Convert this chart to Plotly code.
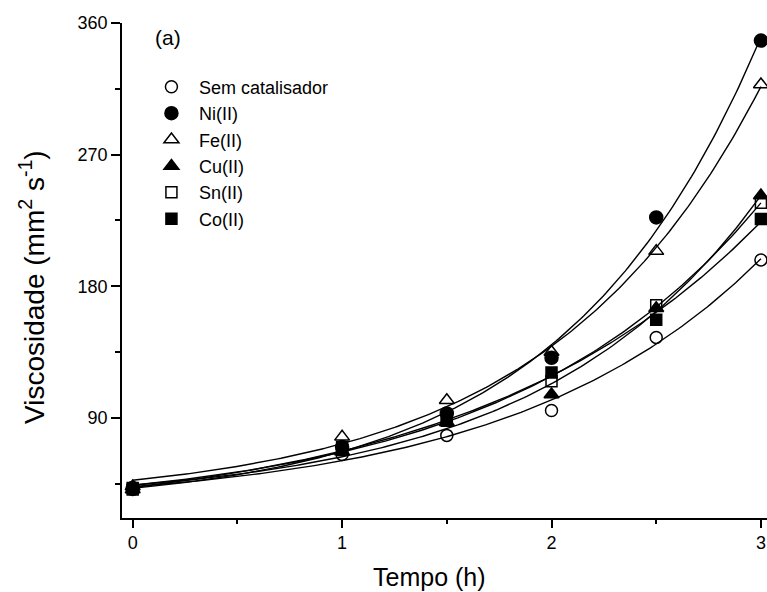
import numpy as np
import plotly.graph_objects as go

tempo = [0, 1, 1.5, 2, 2.5, 3]
sem_catalisador = [41, 65, 78, 95, 145, 198]
ni = [42, 70, 93, 131, 227, 348]
fe = [43, 77, 102, 135, 204, 318]
cu = [41, 67, 87, 106, 165, 242]
sn = [42, 70, 88, 115, 167, 237]
co = [41, 68, 90, 121, 157, 226]

series = [
    ("Sem catalisador", sem_catalisador, "circle-open", 12),
    ("Ni(II)", ni, "circle", 13),
    ("Fe(II)", fe, "triangle-up-open", 13),
    ("Cu(II)", cu, "triangle-up", 13),
    ("Sn(II)", sn, "square-open", 11),
    ("Co(II)", co, "square", 11),
]


def exp_fit(x, y):
    x = np.asarray(x, float)
    y = np.asarray(y, float)
    best = None
    for k in np.linspace(0.2, 3.0, 561):
        M = np.column_stack([np.ones_like(x), np.exp(k * x)])
        coef, *_ = np.linalg.lstsq(M, y, rcond=None)
        err = np.sum((M @ coef - y) ** 2)
        if best is None or err < best[0]:
            best = (err, k, coef)
    _, k, coef = best
    xs = np.linspace(0, 3, 200)
    return xs, coef[0] + coef[1] * np.exp(k * xs)


fig = go.Figure()
for name, vals, sym, sz in series:
    xs, ys = exp_fit(tempo, vals)
    fig.add_trace(go.Scatter(x=xs, y=ys, mode="lines", showlegend=False,
                             line=dict(color="black", width=1.4), hoverinfo="skip",
                             cliponaxis=False))
for name, vals, sym, sz in series:
    fig.add_trace(go.Scatter(x=tempo, y=vals, mode="markers", name=name,
                             cliponaxis=False,
                             marker=dict(symbol=sym, size=sz, color="black",
                                         line=dict(color="black", width=1.5))))

font = "Liberation Sans, Arial, sans-serif"
fig.update_layout(
    width=767, height=592,
    margin=dict(l=122, r=0, t=23, b=74),
    paper_bgcolor="white", plot_bgcolor="white",
    font=dict(family=font, size=18, color="black"),
    showlegend=True,
    legend=dict(x=0.034, y=0.908, xanchor="left", yanchor="top",
                font=dict(size=18, family=font), bgcolor="rgba(0,0,0,0)",
                itemwidth=45),
    xaxis=dict(range=[-0.051, 3.029], showline=True, linecolor="black", linewidth=1.5,
               showgrid=False, zeroline=False, ticks="outside", ticklen=8, tickwidth=1.5,
               tickcolor="black", tickvals=[0, 1, 2, 3], ticktext=["0", "1", "2", "3"],
               tickfont=dict(size=18),
               minor=dict(tickvals=[0.5, 1.5, 2.5], ticks="outside", ticklen=4,
                          tickwidth=1.5, tickcolor="black")),
    yaxis=dict(range=[21.5, 360], showline=True, linecolor="black", linewidth=1.5,
               showgrid=False, zeroline=False, ticks="outside", ticklen=9, tickwidth=1.5,
               tickcolor="black", tickvals=[90, 180, 270, 360],
               tickfont=dict(size=18),
               minor=dict(tickvals=[45, 135, 225, 315], ticks="outside", ticklen=5,
                          tickwidth=1.5, tickcolor="black")),
    annotations=[
        dict(text="(a)", x=0.048, y=0.97, xref="paper", yref="paper",
             xanchor="left", yanchor="middle", showarrow=False,
             font=dict(size=21, family=font)),
        dict(text="Tempo (h)", x=(429 - 122) / 645, y=-(577 - 518) / 495,
             xref="paper", yref="paper", xanchor="center", yanchor="middle",
             showarrow=False, font=dict(size=25, family=font)),
        dict(text="Viscosidade (mm<sup>2</sup> s<sup>-1</sup>)",
             x=-(122 - 32) / 645, y=1 - (287 - 23) / 495, textangle=-90,
             xref="paper", yref="paper", xanchor="center", yanchor="middle",
             showarrow=False, font=dict(size=28, family=font)),
    ],
)

fig.write_html("out.html", config={"displayModeBar": False},
               post_script="document.body.style.margin='0';")
